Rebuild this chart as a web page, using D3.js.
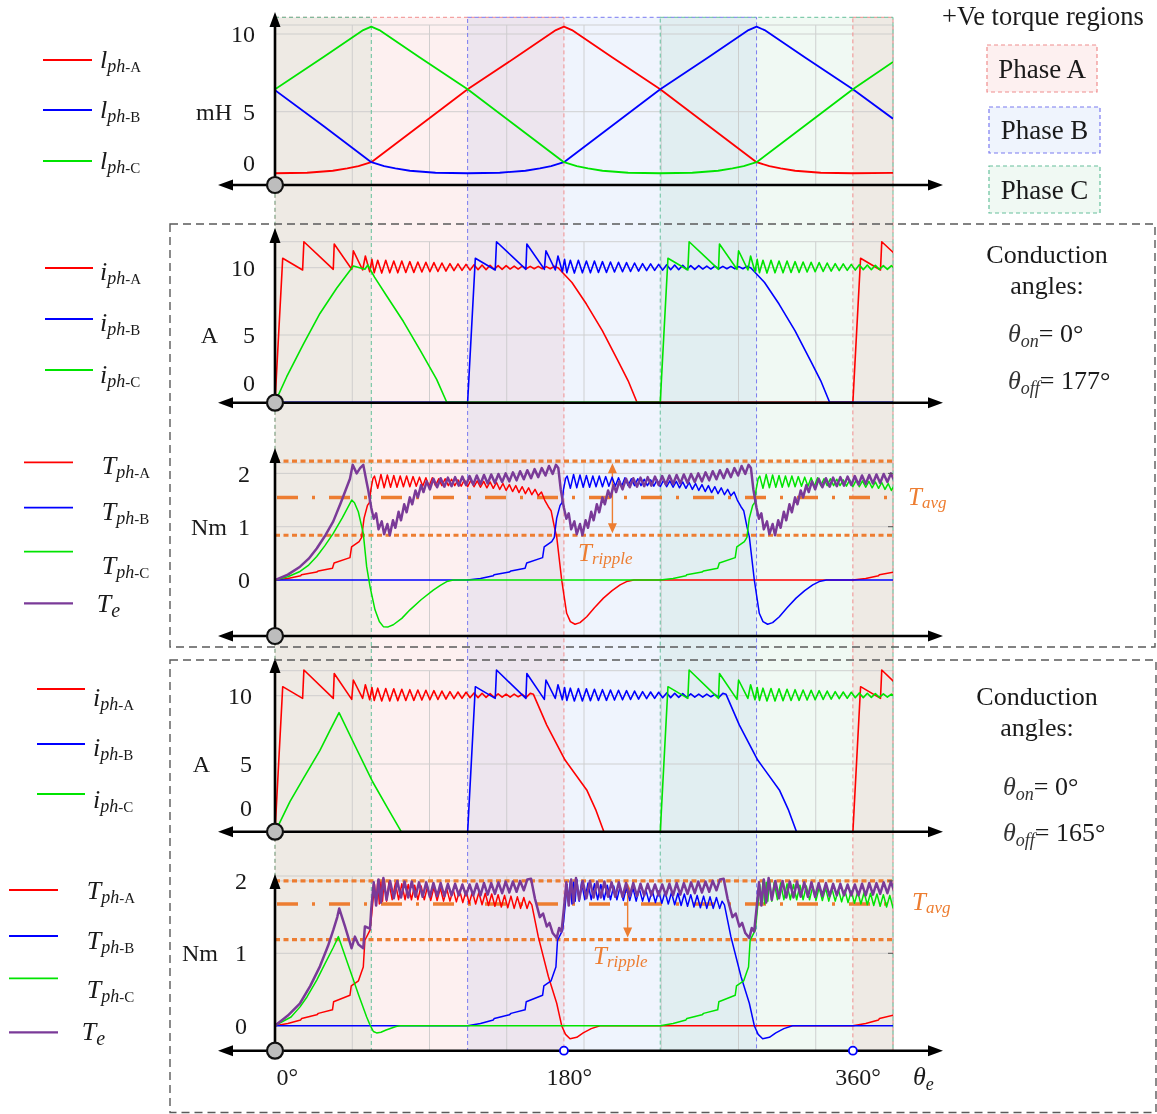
<!DOCTYPE html>
<html>
<head>
<meta charset="utf-8">
<script src="https://cdn.jsdelivr.net/npm/d3@7"></script>
<style>
  body { margin: 0; background: #ffffff; }
  svg text { font-family: "Liberation Serif", "Times New Roman", serif; fill: #1a1a1a; }
</style>
</head>
<body>
<svg id="chart" width="1157" height="1114"></svg>
<script>
// ---------------- data ----------------
const thetaDomain = [0, 385];              // electrical angle, degrees
const xTickValues = [0, 180, 360];
const xMarkerAngles = [180, 360];
const inductanceTicks = [0, 5, 10];
const currentTicks = [0, 5, 10];
const torqueTicks = [0, 1, 2];
const phaseNames = ["A", "B", "C"];

// phase inductance profiles (mH)
const lphA = [[0,1.04],[20,1.07],[36,1.2],[45,1.35],[52,1.5],[60,1.75],[90,4.1],[120,6.44],[150,8.5],[175,10.25],[180,10.47],[185,10.25],[210,8.5],[240,6.44],[270,4.1],[300,1.75],[308,1.5],[315,1.35],[324,1.2],[340,1.07],[360,1.04],[385,1.06]];
const lphB = [[0,6.38],[30,4.1],[60,1.75],[68,1.5],[75,1.35],[84,1.2],[100,1.07],[120,1.04],[140,1.07],[156,1.2],[165,1.35],[172,1.5],[180,1.75],[210,4.1],[240,6.44],[270,8.5],[295,10.25],[300,10.47],[305,10.25],[330,8.5],[360,6.44],[385,4.55]];
const lphC = [[0,6.44],[30,8.5],[55,10.25],[60,10.47],[65,10.25],[90,8.5],[120,6.44],[150,4.1],[180,1.75],[188,1.5],[195,1.35],[204,1.2],[220,1.07],[240,1.04],[260,1.07],[276,1.2],[285,1.35],[292,1.5],[300,1.75],[330,4.1],[360,6.44],[385,8.2]];

// one conduction stroke of phase current (A), angle measured from turn-on
const strokeCurrent177 = [[0,0],[4.8,10.7],[17.2,9.83],[18,11.93],[36.3,9.88],[36.9,11.76],[47.8,9.88],[48.8,11.26],[54.6,9.83],[56.3,10.87],[59,9.7],[60.4,10.62],[61.8,9.63],
  [64,10.55],[66.5,9.6],[69,10.55],[71.5,9.62],[74,10.5],[76.5,9.62],[79,10.5],[81.5,9.65],[84,10.45],[86.5,9.65],[89,10.42],[91.5,9.68],[94,10.4],[96.5,9.7],[99,10.38],[101.5,9.72],[104,10.35],[106.5,9.75],[109,10.3],[111.5,9.78],[114,10.28],[116.5,9.8],[119,10.25],
  [121.5,9.82],[124,10.22],[126.5,9.85],[129,10.2],[131.5,9.85],[134,10.18],[136.5,9.88],[139,10.15],[141.5,9.88],[144,10.15],[146.5,9.9],[149,10.12],[151.5,9.9],[154,10.12],[156.5,9.92],[159,10.1],[161.5,9.92],[164,10.1],[166.5,9.92],[169,10.08],[171.5,9.92],[174,10.1],[176.5,9.98],
  [185,8.9],[194,7.3],[204,5.3],[214,3.0],[220,1.6],[225.5,0]];
// phase C at start-up (already conducting, turned off at 57 deg)
const startCurrentC177 = [[0,0],[7.3,1.9],[17.6,4.3],[28,6.6],[38.4,8.47],[48.8,10.12],[56,9.88],[57.8,10.2],[62,9.3],[69.6,7.9],[80,6.0],[90.3,3.9],[100.7,1.7],[107,0]];

const strokeCurrent165 = [[0,0],[4.8,10.66],[17.2,9.8],[18,11.88],[36.3,9.8],[36.9,11.63],[47.8,9.73],[48.8,11.15],[54.6,9.8],[56.3,10.8],[59,9.7],[60.4,10.6],[61.8,9.65],
  [64,10.55],[66.5,9.62],[69,10.52],[71.5,9.62],[74,10.5],[76.5,9.64],[79,10.47],[81.5,9.65],[84,10.44],[86.5,9.66],[89,10.42],[91.5,9.68],[94,10.4],[96.5,9.7],[99,10.37],[101.5,9.72],[104,10.34],[106.5,9.75],[109,10.3],[111.5,9.78],[114,10.27],[116.5,9.8],[119,10.25],
  [121.5,9.85],[124,10.2],[126.5,9.86],[129,10.18],[131.5,9.88],[134,10.15],[136.5,9.88],[139,10.14],[141.5,9.9],[144,10.12],[146.5,9.9],[149,10.12],[151.5,9.92],[154,10.1],[156.5,9.88],[159,10.17],[161,10.1],
  [169.3,7.85],[180.7,5.29],[194.2,3.1],[200,1.6],[205,0]];
const startCurrentC165 = [[0,0],[9.3,2.24],[17.7,3.95],[28,6.0],[34,7.4],[39.9,8.76],[50,6.3],[60.8,3.7],[70,1.8],[78.9,0]];

// one conduction stroke of phase torque (Nm)
const strokeTorque177 = [[0,0],[8,0.03],[16,0.08],[16.5,0.1],[26,0.15],[27,0.17],[35.8,0.22],[36.8,0.32],[46.7,0.42],[47.7,0.62],[52.4,0.72],[54,0.8],[54.8,1.0],[55.5,1.16],[57.6,1.4],[58.8,1.45],[59.7,1.69],[61,1.9],
  [62,1.95],[64,1.72],[66,1.98],[68,1.73],[70,1.97],[72,1.74],[74,1.96],[76,1.74],[78,1.95],[80,1.75],[82,1.95],[84,1.75],[86,1.94],[88,1.76],[90,1.93],[92,1.76],[94,1.92],[96,1.76],[98,1.92],[100,1.77],[102,1.9],[104,1.77],[106,1.9],[108,1.77],[110,1.89],[112,1.77],[114,1.88],[116,1.76],[118,1.88],[120,1.75],
  [122,1.87],[124,1.75],[126,1.86],[128,1.74],[130,1.85],[132,1.73],[134,1.84],[136,1.72],[138,1.83],[140,1.7],[142,1.81],[144,1.68],[146,1.79],[148,1.66],[150,1.77],[152,1.64],[154,1.75],[156,1.62],[158,1.73],[160,1.6],[162,1.7],[164,1.58],[166,1.65],[168,1.5],
  [170.3,1.375],[172,1.3],[174,1.0],[175.5,0.81],[178.6,0],[181.7,-0.625],[184,-0.78],[186.9,-0.83],[190,-0.8],[194.2,-0.69],[199,-0.52],[204.6,-0.34],[210,-0.2],[215,-0.09],[219,-0.03],[223.5,0]];
const startTorqueC177 = [[0,0],[8,0.06],[15.6,0.16],[21,0.28],[26,0.44],[31,0.64],[36.3,0.875],[42,1.17],[47.8,1.5],[49.5,1.45],[51.9,1.28],[55,0.875],[57.1,0.25],[59.2,-0.125],[62.3,-0.56],[65,-0.78],[67.5,-0.875],[70.5,-0.88],[73.7,-0.84],[79,-0.72],[84.1,-0.56],[91,-0.37],[98.6,-0.19],[103,-0.1],[107,-0.03],[111,0]];
// total torque: start-up part and one commutation cycle (repeats every 120 deg)
const teStart177 = [[0,0],[8,0.1],[15.6,0.25],[21,0.4],[26,0.59],[31,0.82],[36.3,1.1],[41,1.45],[46.7,1.9],[48.4,2.16],[50.9,2.0],[53,2.1],[55,2.16],[57,1.85]];
const teCycle177 = [[58,1.7],[60,1.35],[61.5,1.15],[63,1.25],[64.5,0.95],[66.5,1.1],[68,0.86],[70,1.05],[71.5,0.84],[73.5,1.12],[75,0.98],[77,1.28],[78.5,1.12],[80.5,1.42],[82,1.27],[84,1.55],[85.5,1.42],[87.5,1.68],[89,1.55],[91,1.78],[92.5,1.65],[94.5,1.85],[96.5,1.7],
  [98.7,1.9],[101,1.74],[103.2,1.91],[105.5,1.75],[107.7,1.92],[110,1.76],[112.2,1.93],[114.5,1.77],[116.7,1.94],[119,1.78],[121.2,1.95],[123.5,1.79],[125.7,1.96],[128,1.8],[130.2,1.97],[132.5,1.81],[134.7,1.98],[137,1.82],[139.2,1.99],[141.5,1.84],[143.7,2.0],[146,1.85],[148.2,2.02],[150.5,1.87],[152.7,2.04],[155,1.89],[157.2,2.06],[159.5,1.91],[161.7,2.08],[164,1.93],[166.2,2.1],[168.5,1.96],[170.7,2.14],[173,1.99],[175,2.16],[176.5,2.1]];

const strokeTorque165 = [[0,0],[8,0.03],[16,0.08],[16.6,0.1],[26,0.15],[27,0.17],[35.8,0.22],[36.5,0.33],[46.7,0.42],[47.5,0.55],[52,0.62],[54,0.75],[55,0.81],[56,1.18],[59.2,1.32],[60.2,1.53],
  [62,1.95],[63,1.7],[64,2.0],[65,1.68],[66,1.98],[67,1.72],[68,2.02],[69.5,1.72],[71,1.98],[73,1.74],[75,1.97],[77,1.74],[79,1.96],[81,1.74],[83,1.95],[85,1.74],[87,1.94],[89,1.74],[91,1.93],[93,1.74],[95,1.92],[97,1.73],[99,1.91],[101,1.73],[103,1.9],[105,1.72],[107,1.89],[109,1.72],[111,1.88],[113,1.71],[115,1.87],[117,1.7],[119,1.86],
  [121,1.69],[123,1.85],[125,1.68],[127,1.84],[129,1.67],[131,1.83],[133,1.66],[135,1.82],[137,1.65],[139,1.81],[141,1.64],[143,1.8],[145,1.63],[147,1.79],[149,1.62],[151,1.78],[153,1.62],[155,1.77],[157,1.62],[158.5,1.72],[160,1.67],
  [164,1.23],[170.3,0.68],[175.5,0.31],[178.6,0],[181,-0.12],[183.8,-0.18],[188,-0.16],[192,-0.1],[197,-0.04],[202.4,0]];
const startTorqueC165 = [[0,0],[10,0.12],[15.6,0.26],[20,0.4],[26,0.63],[31,0.85],[36.3,1.08],[39.5,1.23],[46.7,0.77],[52,0.43],[57.1,0.12],[59,0.02],[61.3,-0.08],[63.3,-0.1],[66,-0.09],[69.2,-0.06],[75.4,-0.01],[78,0]];
const teStart165 = [[0,0],[8,0.14],[15.6,0.31],[22,0.55],[28,0.82],[33,1.1],[36.3,1.32],[38.8,1.5],[40,1.62],[43.5,1.38],[47.7,1.07],[49.8,1.23],[52,1.12],[55,1.07],[56,1.37],[59.2,1.34]];
const teCycle165 = [[60,1.62],[61.5,1.98],[63,1.66],[64.5,2.02],[66,1.7],[67.5,2.04],[69.5,1.74],[71.7,2.0],[74,1.76],[76.2,2.0],[78.5,1.77],[80.7,1.99],[83,1.77],[85.2,1.99],[87.5,1.78],[89.7,1.98],[92,1.78],[94.2,1.98],[96.5,1.78],[98.7,1.97],[101,1.79],[103.2,1.97],[105.5,1.79],[107.7,1.96],[110,1.8],[112.2,1.96],[114.5,1.8],[116.7,1.95],[119,1.8],
  [121.2,1.95],[123.5,1.8],[125.7,1.96],[128,1.8],[130.2,1.97],[132.5,1.81],[134.7,1.97],[137,1.82],[139.2,1.98],[141.5,1.83],[143.7,1.99],[146,1.84],[148.2,1.99],[150.5,1.85],[152.7,2.0],[155,1.87],[157.2,2.02],[159.5,2.03],
  [162,1.75],[165,1.5],[167,1.55],[169.3,1.37],[171,1.42],[173,1.28],[175.5,1.21],[177,1.35],[178.5,1.3]];

// turn-on offsets of each phase and repeat offsets of the torque cycle
const strokeOffsets = { A: [0, 360], B: [120], C: [240] };
const cycleOffsets = [0, 120, 240];

// torque band lines (Nm): max, average, min
const bands177 = [2.23, 1.55, 0.84];
const bands165 = [2.0, 1.68, 1.19];
const conduction177 = [0, 177];
const conduction165 = [0, 165];

// positive-torque regions of each phase (deg)
const regionsA = [[0, 180], [360, 385]];
const regionsB = [[120, 300]];
const regionsC = [[0, 60], [240, 385]];

// ---------------- drawing ----------------
const svg = d3.select("#chart");
const SERIF = '"Liberation Serif", "Times New Roman", serif';
const INK = "#1a1a1a";
const ORANGE = "#ED7D31";
const COLORS = { A: "#ff0000", B: "#0000ff", C: "#00e400" };
const PURPLE = "#7a3a98";
const REGION = {
  A: { fill: "#fdf0f0", stroke: "#f08e8e" },
  B: { fill: "#eff4fd", stroke: "#7a7af0" },
  C: { fill: "#f0f9f3", stroke: "#66c09c" }
};

const x = d3.scaleLinear().domain(thetaDomain).range([275, 893]);
const X0 = x(0), X1 = x(thetaDomain[1]);
const SHADE_TOP = 17.3, SHADE_BOTTOM = 1050.7;

const panels = {
  L:  { y: d3.scaleLinear().domain([0, 10]).range([189.4, 34]),    top: 25,    axisY: 185,    arrowTop: 12,  grid: [5, 10], labelRight: 255, zeroLabelY: 163,   unit: "mH", unitRight: 232, ticks: inductanceTicks },
  I1: { y: d3.scaleLinear().domain([0, 10]).range([402.3, 267.7]), top: 241.7, axisY: 402.7, arrowTop: 228, grid: [5, 10], labelRight: 255, zeroLabelY: 383.3, unit: "A",  unitRight: 218, ticks: currentTicks },
  T1: { y: d3.scaleLinear().domain([0, 2]).range([580, 473.4]),    top: 463,   axisY: 636,    arrowTop: 448, grid: [1, 2],  labelRight: 250, zeroLabelY: null,  unit: "Nm", unitRight: 227, ticks: torqueTicks },
  I2: { y: d3.scaleLinear().domain([0, 10]).range([832.3, 695.7]), top: 670.7, axisY: 831.7, arrowTop: 658, grid: [5, 10], labelRight: 252, zeroLabelY: 808,   unit: "A",  unitRight: 210, ticks: currentTicks },
  T2: { y: d3.scaleLinear().domain([0, 2]).range([1025.7, 880.9]), top: 876,   axisY: 1050.7, arrowTop: 874, grid: [1, 2],  labelRight: 247, zeroLabelY: null,  unit: "Nm", unitRight: 218, ticks: torqueTicks }
};

svg.append("defs").append("clipPath").attr("id", "plotClip")
  .append("rect").attr("x", X0).attr("y", 0).attr("width", X1 - X0).attr("height", 1114);

// region shading (blended so overlaps mix)
const shade = svg.append("g");
[["A", regionsA], ["B", regionsB], ["C", regionsC]].forEach(([k, list]) => {
  list.forEach(([a, b]) => {
    shade.append("rect").attr("x", x(a)).attr("y", SHADE_TOP).attr("width", x(b) - x(a)).attr("height", SHADE_BOTTOM - SHADE_TOP)
      .attr("fill", REGION[k].fill).style("mix-blend-mode", "multiply");
  });
});

// grid
const gridG = svg.append("g").attr("stroke", "#c9c9c9").attr("stroke-width", 1).attr("opacity", 0.85);
const gridAngles = d3.range(1, 9).map(i => thetaDomain[1] * i / 8);
Object.values(panels).forEach(p => {
  gridAngles.forEach(t => gridG.append("line").attr("x1", x(t)).attr("x2", x(t)).attr("y1", p.top).attr("y2", p.axisY));
  p.grid.forEach(v => gridG.append("line").attr("x1", X0).attr("x2", X1).attr("y1", p.y(v)).attr("y2", p.y(v)));
  gridG.append("line").attr("x1", X0).attr("x2", X1).attr("y1", p.top).attr("y2", p.top);
});

// region borders
const borders = svg.append("g").attr("fill", "none").attr("stroke-width", 1).attr("stroke-dasharray", "4,3");
[["A", regionsA], ["B", regionsB], ["C", regionsC]].forEach(([k, list]) => {
  list.forEach(([a, b]) => {
    borders.append("rect").attr("x", x(a)).attr("y", SHADE_TOP).attr("width", x(b) - x(a)).attr("height", SHADE_BOTTOM - SHADE_TOP)
      .attr("stroke", REGION[k].stroke);
  });
});

// helpers
const shift = (pts, d) => pts.map(([t, v]) => [t + d, v]);
function trace(pieces) {
  let pts = [[thetaDomain[0], 0]];
  pieces.forEach(p => { pts = pts.concat(p); });
  if (pts[pts.length - 1][0] < thetaDomain[1]) pts.push([thetaDomain[1] + 10, 0]);
  return pts;
}
function drawLine(p, pts, color, width) {
  const line = d3.line().x(d => x(d[0])).y(d => p.y(d[1]));
  svg.append("path").attr("clip-path", "url(#plotClip)").attr("d", line(pts))
    .attr("fill", "none").attr("stroke", color).attr("stroke-width", width).attr("stroke-linejoin", "round");
}

// inductance panel
drawLine(panels.L, lphA, COLORS.A, 1.8);
drawLine(panels.L, lphB, COLORS.B, 1.8);
drawLine(panels.L, lphC, COLORS.C, 1.8);

function currentPanel(p, stroke, startC) {
  drawLine(p, trace(strokeOffsets.A.map(o => shift(stroke, o))), COLORS.A, 1.6);
  drawLine(p, trace(strokeOffsets.B.map(o => shift(stroke, o))), COLORS.B, 1.6);
  drawLine(p, trace([startC].concat(strokeOffsets.C.map(o => shift(stroke, o)))), COLORS.C, 1.6);
}
currentPanel(panels.I1, strokeCurrent177, startCurrentC177);
currentPanel(panels.I2, strokeCurrent165, startCurrentC165);

function torquePanel(p, stroke, startC, teStart, teCycle, bands, arrowAngle, labels) {
  const [hi, avg, lo] = bands;
  const bandG = svg.append("g").attr("stroke", ORANGE).attr("fill", "none");
  [hi, lo].forEach(v => bandG.append("line").attr("x1", X0).attr("x2", X1).attr("y1", p.y(v)).attr("y2", p.y(v))
    .attr("stroke-width", 3.2).attr("stroke-dasharray", "5,3.5"));
  bandG.append("line").attr("x1", X0 + 2).attr("x2", X1).attr("y1", p.y(avg)).attr("y2", p.y(avg))
    .attr("stroke-width", 3.5).attr("stroke-dasharray", "21,14,3,14");

  drawLine(p, trace(strokeOffsets.A.map(o => shift(stroke, o))), COLORS.A, 1.5);
  drawLine(p, trace(strokeOffsets.B.map(o => shift(stroke, o))), COLORS.B, 1.5);
  drawLine(p, trace([startC].concat(strokeOffsets.C.map(o => shift(stroke, o)))), COLORS.C, 1.5);
  const te = teStart.concat(...cycleOffsets.map(o => shift(teCycle, o)));
  drawLine(p, te, PURPLE, 2.5);

  // ripple arrow
  const ax = x(arrowAngle), y1 = p.y(hi) + 2, y2 = p.y(lo) - 2;
  bandG.append("line").attr("x1", ax).attr("x2", ax).attr("y1", y1 + 6).attr("y2", y2 - 6).attr("stroke-width", 1.4);
  bandG.append("path").attr("fill", ORANGE).attr("stroke", "none")
    .attr("d", `M${ax},${y1} l-4.5,10 l9,0 Z M${ax},${y2} l-4.5,-10 l9,0 Z`);

  // labels
  const t1 = svg.append("text").attr("x", labels.avg[0]).attr("y", labels.avg[1]).style("fill", ORANGE);
  t1.append("tspan").attr("font-style", "italic").attr("font-size", 25).text("T");
  t1.append("tspan").attr("font-style", "italic").attr("font-size", 17).attr("dy", 3).text("avg");
  const t2 = svg.append("text").attr("x", labels.ripple[0]).attr("y", labels.ripple[1]).style("fill", ORANGE);
  t2.append("tspan").attr("font-style", "italic").attr("font-size", 25).text("T");
  t2.append("tspan").attr("font-style", "italic").attr("font-size", 17).attr("dy", 3).text("ripple");
}
torquePanel(panels.T1, strokeTorque177, startTorqueC177, teStart177, teCycle177, bands177, 210.2, { avg: [908, 505], ripple: [578, 561] });
torquePanel(panels.T2, strokeTorque165, startTorqueC165, teStart165, teCycle165, bands165, 219.7, { avg: [912, 910], ripple: [593, 964] });

// axes
function axes(p) {
  const g = svg.append("g");
  g.append("line").attr("x1", 230).attr("x2", 931).attr("y1", p.axisY).attr("y2", p.axisY).attr("stroke", "#000").attr("stroke-width", 2.6);
  g.append("line").attr("x1", X0).attr("x2", X0).attr("y1", p.axisY).attr("y2", p.arrowTop + 10).attr("stroke", "#000").attr("stroke-width", 2.6);
  g.append("path").attr("fill", "#000")
    .attr("d", `M218,${p.axisY} l15,-5.5 l0,11 Z M943,${p.axisY} l-15,-5.5 l0,11 Z M${X0},${p.arrowTop} l-5.5,15 l11,0 Z`);
  g.append("circle").attr("cx", X0).attr("cy", p.axisY).attr("r", 8).attr("fill", "#bdbdbd").attr("stroke", "#111").attr("stroke-width", 2.2);

  const lab = svg.append("g").attr("transform", `translate(${p.labelRight},0)`)
    .call(d3.axisLeft(p.y).tickValues(p.ticks).tickSize(0).tickPadding(0).tickFormat(d3.format("d")));
  lab.select(".domain").remove();
  lab.attr("font-family", SERIF).attr("font-size", 24);
  lab.selectAll("text").attr("fill", INK);
  if (p.zeroLabelY != null) lab.selectAll(".tick").filter(d => d === 0).attr("transform", `translate(0,${p.zeroLabelY})`);
  const unitY = p.y(p.ticks[1]);
  svg.append("text").attr("x", p.unitRight).attr("y", unitY + 8).attr("text-anchor", "end").attr("font-size", 24).text(p.unit);
}
Object.values(panels).forEach(axes);

// right-edge tick marks on torque frames
[panels.T1, panels.T2].forEach(p => {
  [1, 2].forEach(v => svg.append("line").attr("x1", X1 - 5).attr("x2", X1).attr("y1", p.y(v)).attr("y2", p.y(v)).attr("stroke", "#555").attr("stroke-width", 1));
});

// bottom angle axis labels
const xa = svg.append("g").attr("transform", `translate(0,${panels.T2.axisY})`)
  .call(d3.axisBottom(x).tickValues(xTickValues).tickSize(0).tickPadding(17).tickFormat(d => d));
xa.select(".domain").remove();
xa.attr("font-family", SERIF).attr("font-size", 24);
xa.selectAll("text").attr("fill", INK).each(function(d) {
  const t = d3.select(this);
  const w = this.getComputedTextLength();
  t.attr("text-anchor", "start").attr("x", d === 0 ? 1 : -w / 2);
  t.append("tspan").text("°");
});
xMarkerAngles.forEach(a => svg.append("circle").attr("cx", x(a)).attr("cy", panels.T2.axisY).attr("r", 4)
  .attr("fill", "#fff").attr("stroke", "#0000ff").attr("stroke-width", 1.8));
const thetaLab = svg.append("text").attr("x", 913).attr("y", 1085);
thetaLab.append("tspan").attr("font-style", "italic").attr("font-size", 26).text("θ");
thetaLab.append("tspan").attr("font-style", "italic").attr("font-size", 18).attr("dy", 5).text("e");

// legends
function legend(entries, mainLetter, x1, x2, tx) {
  entries.forEach(e => {
    svg.append("line").attr("x1", x1).attr("x2", x2).attr("y1", e.ly).attr("y2", e.ly)
      .attr("stroke", e.color).attr("stroke-width", e.w || 1.8);
    const t = svg.append("text").attr("x", e.tx || tx).attr("y", e.tb).attr("font-size", 26);
    t.append("tspan").attr("font-style", "italic").text(e.main || mainLetter);
    if (e.phase) {
      t.append("tspan").attr("font-style", "italic").attr("font-size", 18).attr("dy", 4).text("ph");
      t.append("tspan").attr("font-size", 15).text("-" + e.phase);
    } else {
      t.append("tspan").attr("font-style", "italic").attr("font-size", 20).attr("dy", 5).text("e");
    }
  });
}
legend(phaseNames.map((n, i) => ({ phase: n, color: COLORS[n], ly: [60, 110, 161][i], tb: [68, 118, 169][i] })), "l", 43, 92, 100);
legend(phaseNames.map((n, i) => ({ phase: n, color: COLORS[n], ly: [268, 319, 370][i], tb: [280, 331, 383][i] })), "i", 45, 93, 100);
legend(phaseNames.map((n, i) => ({ phase: n, color: COLORS[n], ly: [462.3, 507.7, 551.7][i], tb: [473.5, 520, 573.5][i] }))
  .concat([{ main: "T", color: PURPLE, ly: 603.3, tb: 611.7, tx: 96.7, w: 2.2 }]), "T", 24, 73, 101.7);
legend(phaseNames.map((n, i) => ({ phase: n, color: COLORS[n], ly: [689, 744, 794][i], tb: [706, 756, 808][i] })), "i", 37, 85, 93);
legend(phaseNames.map((n, i) => ({ phase: n, color: COLORS[n], ly: [890, 936, 978.3][i], tb: [898.5, 948.5, 998][i] }))
  .concat([{ main: "T", color: PURPLE, ly: 1032.3, tb: 1040, tx: 81.7, w: 2.2 }]), "T", 9, 58, 86.7);

// dashed group frames
[[170, 224, 1155, 647], [170, 660, 1156, 1112.5]].forEach(([x0, y0, x1, y1]) => {
  svg.append("rect").attr("x", x0).attr("y", y0).attr("width", x1 - x0).attr("height", y1 - y0)
    .attr("fill", "none").attr("stroke", "#5a5a5a").attr("stroke-width", 1.4).attr("stroke-dasharray", "8,5");
});

// region key
svg.append("text").attr("x", 1043).attr("y", 25).attr("text-anchor", "middle").attr("font-size", 26.5).text("+Ve torque regions");
[["A", 987, 45, 110, 47], ["B", 989, 107, 111, 46], ["C", 989, 166, 111, 47]].forEach(([k, bx, by, bw, bh]) => {
  svg.append("rect").attr("x", bx).attr("y", by).attr("width", bw).attr("height", bh)
    .attr("fill", REGION[k].fill).attr("stroke", REGION[k].stroke).attr("stroke-width", 1.2).attr("stroke-dasharray", "4,3");
  svg.append("text").attr("x", bx + bw / 2).attr("y", by + bh / 2 + 9).attr("text-anchor", "middle").attr("font-size", 27).text("Phase " + k);
});

// conduction angle notes
function conductionNote(cx, yb, angles) {
  svg.append("text").attr("x", cx).attr("y", yb[0]).attr("text-anchor", "middle").attr("font-size", 26).text("Conduction");
  svg.append("text").attr("x", cx).attr("y", yb[1]).attr("text-anchor", "middle").attr("font-size", 26).text("angles:");
  [["on", angles[0]], ["off", angles[1]]].forEach(([s, v], i) => {
    const t = svg.append("text").attr("x", yb[4]).attr("y", yb[2 + i]).attr("font-size", 26);
    t.append("tspan").attr("font-style", "italic").style("fill", "#333").text("θ");
    t.append("tspan").attr("font-style", "italic").attr("font-size", 18).attr("dy", 5).style("fill", "#333").text(s);
    t.append("tspan").attr("dy", -5).text("= " + v + "°");
  });
}
conductionNote(1047, [263, 294, 342, 389, 1008], conduction177);
conductionNote(1037, [705, 736, 795, 841, 1003], conduction165);
</script>
</body>
</html>
